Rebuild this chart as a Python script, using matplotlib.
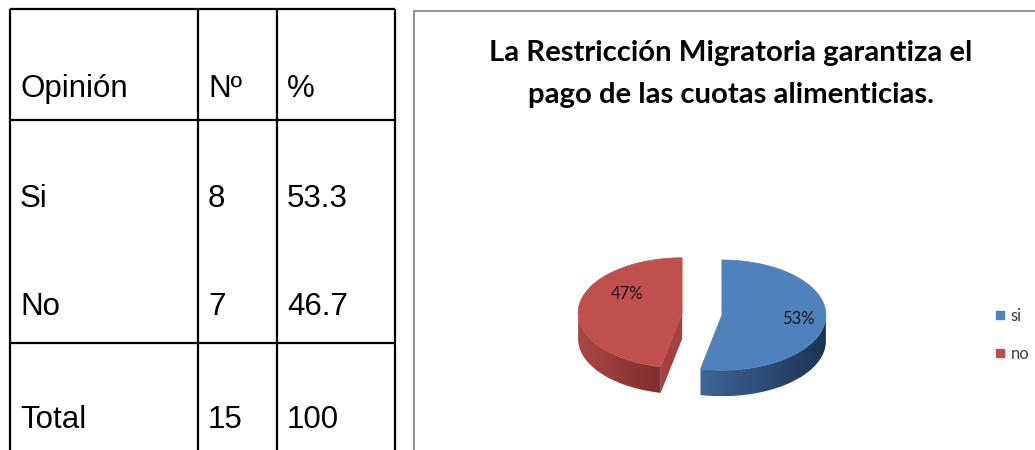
import numpy as np
import matplotlib
matplotlib.use("Agg")
import matplotlib.pyplot as plt
from matplotlib.patches import Polygon
from matplotlib.colors import LinearSegmentedColormap
from matplotlib.lines import Line2D

# ---------------- data ----------------
table_header = ["Opinión", "Nº", "%"]
table_opinion = ["Si", "No", "Total"]
table_count = ["8", "7", "15"]
table_pct = ["53.3", "46.7", "100"]

categories = ["si", "no"]
values = [53.3, 46.7]
title = "La Restricción Migratoria garantiza el\npago de las cuotas alimenticias."

# ---------------- style ----------------
W, H, DPI = 1035, 450, 100
top_colors = ["#4F81BD", "#C0504D"]
wall_colors = [("#3E6698", "#1D3352"), ("#A94845", "#7E2E2C")]
face_colors = ["#2E4E78", "#A3423F"]
label_font = ["Lato", "DejaVu Sans"]

fig = plt.figure(figsize=(W / DPI, H / DPI), dpi=DPI)
ax = fig.add_axes([0, 0, 1, 1])
ax.set_xlim(0, W)
ax.set_ylim(H, 0)
ax.axis("off")

# ---------------- table ----------------
lw_tab = 1.6
col_x = [10, 198, 277, 395]
row_y = [9, 120, 343]
for x in col_x:
    ax.plot([x, x], [row_y[0], H + 5], color="black", lw=lw_tab, solid_capstyle="butt")
for y in row_y:
    ax.plot([col_x[0], col_x[-1]], [y, y], color="black", lw=lw_tab, solid_capstyle="butt")

text_x = [20, 208, 287]
base_y = [97, 207, 315, 428]
tfont = dict(family=["Liberation Sans", "DejaVu Sans"], fontsize=22.5, color="black", va="baseline", ha="left")
for j, h in enumerate(table_header):
    ax.text(text_x[j], base_y[0], h, **tfont)
for i in range(len(table_opinion)):
    ax.text(text_x[0], base_y[i + 1], table_opinion[i], **tfont)
    ax.text(text_x[1], base_y[i + 1], table_count[i], **tfont)
    ax.text(text_x[2], base_y[i + 1], table_pct[i], **tfont)

# ---------------- chart frame ----------------
ax.plot([414, 414], [H + 5, 11], color="#8a8a8a", lw=1.3)
ax.plot([414, W + 5], [11, 11], color="#8a8a8a", lw=1.3)

# ---------------- title ----------------
t1, t2 = title.split("\n")
tt = ax.text(731, 61, t1, family=["Lato", "DejaVu Sans"], weight="bold", fontsize=20,
             ha="center", va="baseline", color="black")
fig.canvas.draw()
w = tt.get_window_extent().width
fs = 20 * 482.0 / w
tt.set_fontsize(fs)
ax.text(731, 103, t2, family=["Lato", "DejaVu Sans"], weight="bold", fontsize=fs,
        ha="center", va="baseline", color="black")

# ---------------- 3D exploded pie ----------------
cx, cy = 702, 314
R = 104
tilt = 0.53
r = R * tilt
depth = 26
explode = 20


def pt(theta_deg, ox, oy, drop=0.0):
    t = np.deg2rad(theta_deg)
    return cx + ox + R * np.cos(t), cy + oy - r * np.sin(t) + drop


def gradient_fill(poly_xy, c_left, c_right, z):
    poly = Polygon(poly_xy, closed=True, facecolor="none", edgecolor="none")
    ax.add_patch(poly)
    xs = poly_xy[:, 0]
    ys = poly_xy[:, 1]
    cmap = LinearSegmentedColormap.from_list("g", [c_left, c_right])
    grad = np.linspace(0, 1, 256)[None, :]
    im = ax.imshow(grad, cmap=cmap, aspect="auto",
                   extent=[xs.min(), xs.max(), ys.max(), ys.min()], zorder=z)
    im.set_clip_path(poly)


total = float(sum(values))
fracs = [v / total for v in values]
start = 90.0
cum = 0.0
label_pos = [(0.74, -5.0), (0.63, 147.0)]  # (radius fraction, angle) per label
for i, f in enumerate(fracs):
    a_start = start - cum * 360.0
    a_end = start - (cum + f) * 360.0
    cum += f
    mid = 0.5 * (a_start + a_end)
    ox = explode * np.cos(np.deg2rad(mid))
    oy = -explode * np.sin(np.deg2rad(mid)) * tilt

    # radial cut faces
    for edge, normal in ((a_end, a_end - 90.0), (a_start, a_start + 90.0)):
        if np.sin(np.deg2rad(normal)) < -1e-3:
            e0 = pt(edge, ox, oy)
            c0 = (cx + ox, cy + oy)
            face = np.array([c0, e0, (e0[0], e0[1] + depth), (c0[0], c0[1] + depth)])
            ax.add_patch(Polygon(face, closed=True, facecolor=face_colors[i],
                                 edgecolor="none", zorder=2))

    # outer front wall
    for k in (-2, -1, 0, 1):
        lo = max(a_end, -180.0 + 360.0 * k)
        hi = min(a_start, 0.0 + 360.0 * k)
        if hi - lo > 0.5:
            th = np.linspace(lo, hi, 80)
            top = np.array([pt(t, ox, oy) for t in th])
            bot = np.array([pt(t, ox, oy, depth) for t in th[::-1]])
            wall = np.vstack([top, bot])
            gradient_fill(wall, wall_colors[i][0], wall_colors[i][1], z=3)

    # top face
    th = np.linspace(a_end, a_start, 200)
    rim = np.array([pt(t, ox, oy) for t in th])
    centre = np.array([[cx + ox, cy + oy]])
    topface = np.vstack([centre, rim])
    ax.add_patch(Polygon(topface, closed=True, facecolor=top_colors[i],
                         edgecolor=top_colors[i], lw=0.5, zorder=4))

    # data label
    lf, la = label_pos[i]
    lx = cx + ox + lf * R * np.cos(np.deg2rad(la))
    ly = cy + oy - lf * r * np.sin(np.deg2rad(la))
    ax.text(lx, ly, f"{round(values[i] / total * 100):.0f}%", family=label_font,
            fontsize=12, ha="center", va="center", color="#1a1a1a", zorder=5)

# ---------------- legend ----------------
handles = [Line2D([], [], marker="s", linestyle="none", markersize=5.5,
                  markerfacecolor=c, markeredgecolor=c) for c in top_colors]
leg = ax.legend(handles, categories, loc="center left", bbox_to_anchor=(980, 335),
                bbox_transform=ax.transData, frameon=False, handlelength=0.6,
                handletextpad=0.35, labelspacing=1.3, prop=dict(family=label_font, size=12))
for t in leg.get_texts():
    t.set_color("#404040")

ax.set_xlim(0, W)
ax.set_ylim(H, 0)
fig.savefig("out.png", dpi=DPI)
